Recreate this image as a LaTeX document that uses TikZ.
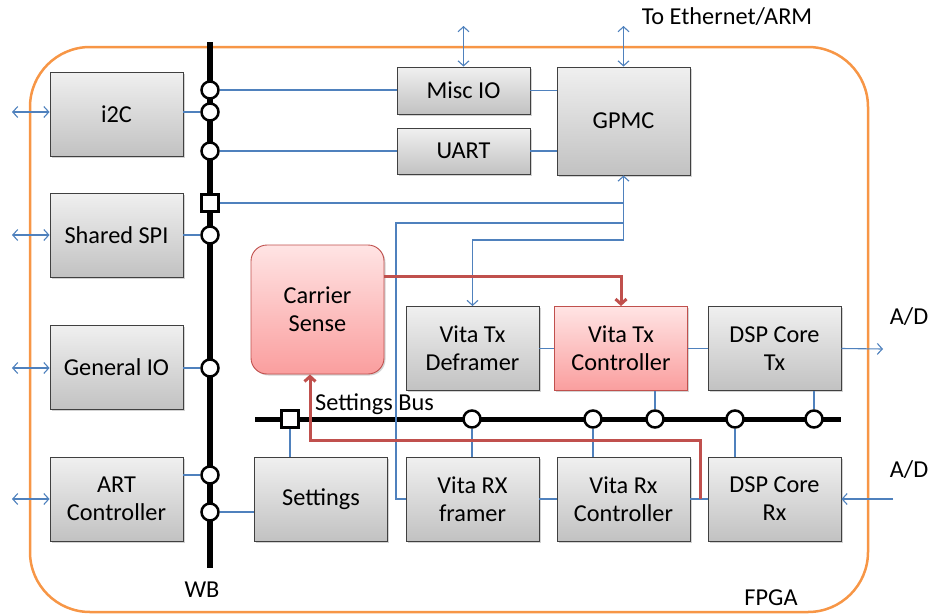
\documentclass[tikz,border=0pt]{standalone}
\usepackage{fontspec}
\setmainfont{Carlito}
\usetikzlibrary{arrows.meta,shadows}
\definecolor{linkblue}{RGB}{79,129,189}
\definecolor{fpgaorange}{RGB}{247,150,70}
\definecolor{csred}{RGB}{192,80,77}
\definecolor{cspinktop}{RGB}{255,228,228}
\definecolor{cspinkbot}{RGB}{250,158,158}
\tikzset{
  block/.style={draw=black!75, line width=0.9pt, top color=gray!12, bottom color=gray!48,
    minimum width=133pt, minimum height=84pt, align=center, inner sep=2pt,
    drop shadow={shadow xshift=1.5pt,shadow yshift=-1.5pt,opacity=.35}},
  pinkblock/.style={block, draw=csred, top color=cspinktop, bottom color=cspinkbot},
  fpga/.style={draw=fpgaorange, line width=2.5pt, rounded corners=60pt},
  link/.style={draw=linkblue, line width=1.1pt},
  redlink/.style={draw=csred, line width=3pt},
  wbbus/.style={line width=6pt, line cap=butt},
  setbus/.style={line width=5pt},
  tap/.style={circle, draw, fill=white, line width=2.5pt, minimum size=17pt, inner sep=0pt},
  tapsq/.style={rectangle, draw, fill=white, line width=2.5pt, minimum size=17pt, inner sep=0pt},
  barb/.tip={Straight Barb[length=5pt,width=11pt]},
  label/.style={inner sep=0pt}
}

\begin{document}
\begin{tikzpicture}[x=1pt,y=-1pt,font=\fontsize{24.3}{28}\selectfont]
\useasboundingbox (0,0) rectangle (930,616);
% outline:
\draw[fpga] (30,47) rectangle (868,612);
% blocks:
\node[block] (i2c) at (116.5,114) {i2C};
\node[block] (spi) at (116.5,235) {Shared SPI};
\node[block] (gio) at (116.5,367.5) {General IO};
\node[block] (art) at (116.5,499) {ART\\Controller};
\node[block] (settings) at (321,499) {Settings};
\node[block] (rxfr) at (472.5,499) {Vita RX\\framer};
\node[block] (rxctl) at (623.5,499) {Vita Rx\\Controller};
\node[block] (dsprx) at (774.5,499) {DSP Core\\Rx};
\node[block,minimum height=47pt] (misc) at (463.5,90.5) {Misc IO};
\node[block,minimum height=46pt] (uart) at (463.5,151) {UART};
\node[block,minimum height=108pt] (gpmc) at (623.5,121) {GPMC};
\node[block] (txdef) at (472.5,348.5) {Vita Tx\\Deframer};
\node[pinkblock] (txctl) at (621,348.5) {Vita Tx\\Controller};
\node[block] (dsptx) at (774.5,348.5) {DSP Core\\Tx};
\node[pinkblock,rounded corners=16pt,minimum height=129pt] (carrier) at (317.5,309.5) {Carrier\\Sense};
% free ends:
\coordinate (lft) at (12,0);
\coordinate (top) at (0,26);
\coordinate (rxup) at (396,223);
\coordinate (txdn) at (623.5,240);
\coordinate (adout) at (883,349);
\coordinate (adin) at (893,499);
\coordinate (csout) at (384,276);
\coordinate (rxtap) at (700,499);
\coordinate (cscorner) at (310,440);
% buses:
\draw[wbbus] (210,42) -- (210,568);
\draw[setbus] (255,419) -- (841,419);
\foreach \n/\y in {w1/90,w2/112,w3/151,w4/235,w5/368,w6/475,w7/512}
  \node[tap] (\n) at (210,\y) {};
\node[tapsq] (w0) at (210,203) {};
\foreach \n/\x in {s1/472,s2/593,s3/655,s4/735,s5/814}
  \node[tap] (\n) at (\x,419) {};
\node[tapsq] (s0) at (290,419) {};
% wishbone links:
\draw[link] (w1) -- (w1 -| misc.west);
\draw[link] (w2) -- (w2 -| i2c.east);
\draw[link] (w3) -- (w3 -| uart.west);
\draw[link] (w0) -- (w0 -| gpmc);
\draw[link] (w4) -- (w4 -| spi.east);
\draw[link] (w5) -- (w5 -| gio.east);
\draw[link] (w6) -- (w6 -| art.east);
\draw[link] (w7) -- (w7 -| settings.west);
\draw[link] (misc) -- (misc -| gpmc.west);
\draw[link] (uart) -- (uart -| gpmc.west);
% settings bus links:
\draw[link] (s0) -- (s0 |- settings.north);
\draw[link] (s1) -- (s1 |- rxfr.north);
\draw[link] (s2) -- (s2 |- rxctl.north);
\draw[link] (s3) -- (s3 |- txctl.south);
\draw[link] (s4) -- (s4 |- dsprx.north);
\draw[link] (s5) -- (s5 |- dsptx.south);
% data path:
\draw[link] (rxfr.west) -| (rxup) -- (rxup -| txdn);
\draw[link,-barb] (txdn) -- (gpmc.south);
\draw[link,-barb] (txdn) -| (txdef.north);
\draw[link] (txdef) -- (txctl);
\draw[link] (txctl) -- (dsptx);
\draw[link] (rxfr) -- (rxctl);
\draw[link] (rxctl) -- (dsprx);
\draw[link,-barb] (dsptx.east) -- (adout);
\draw[link,-barb] (adin) -- (dsprx.east);
% external io:
\draw[link,barb-barb] (i2c.west |- w2) -- (lft |- w2);
\draw[link,barb-barb] (spi.west |- w4) -- (lft |- w4);
\draw[link,barb-barb] (gio.west |- w5) -- (lft |- w5);
\draw[link,barb-barb] (art.west) -- (lft |- art);
\draw[link,barb-barb] (misc.north) -- (misc.north |- top);
\draw[link,barb-barb] (gpmc.north) -- (gpmc.north |- top);
% carrier sense:
\draw[redlink,-barb] (csout) -| (txctl.north);
\draw[redlink,-barb] (rxtap) |- (cscorner) -- (cscorner |- carrier.south);
% labels:
\node[label] (wb) at (202,590) {WB};
\node[label] (fpgalbl) at (771,598) {FPGA};
\node[label] (eth) at (727,17) {To Ethernet/ARM};
\node[label] (adtx) at (909,317) {A/D};
\node[label] (adrx) at (909,470) {A/D};
\node[label,anchor=west] (sbus) at (315,404) {Settings Bus};
\end{tikzpicture}
\end{document}
